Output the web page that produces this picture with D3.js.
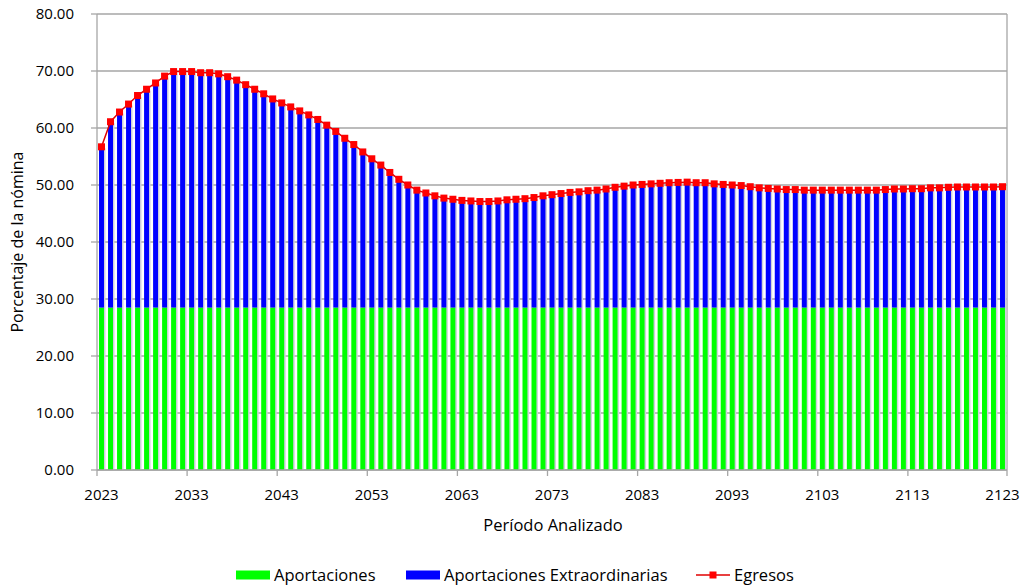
<!DOCTYPE html>
<html>
<head>
<meta charset="utf-8">
<script src="https://cdn.jsdelivr.net/npm/d3@7"></script>
<style>
  body { margin:0; background:#fff; }
  text { font-family: "Open Sans", "Noto Sans", sans-serif; fill:#000; }
</style>
</head>
<body>
<div id="chart"></div>
<script>
// data
var years = d3.range(2023, 2124);
var aportaciones = years.map(function(){ return 28.5; });
var egresos = [
  56.7, 61.1, 62.8, 64.2, 65.7, 66.8, 67.9, 69.1, 69.9, 69.9,
  69.9, 69.7, 69.7, 69.5, 69.0, 68.4, 67.6, 66.8, 66.0, 65.1,
  64.4, 63.7, 63.0, 62.3, 61.5, 60.5, 59.4, 58.2, 57.1, 55.8,
  54.6, 53.5, 52.2, 51.0, 50.0, 49.1, 48.6, 48.1, 47.7, 47.5,
  47.3, 47.2, 47.1, 47.1, 47.2, 47.4, 47.5, 47.6, 47.8, 48.1,
  48.3, 48.5, 48.7, 48.8, 49.0, 49.1, 49.3, 49.6, 49.8, 50.0,
  50.1, 50.2, 50.3, 50.4, 50.45, 50.5, 50.4, 50.4, 50.2, 50.1,
  50.0, 49.9, 49.7, 49.5, 49.4, 49.3, 49.2, 49.2, 49.1, 49.1,
  49.1, 49.1, 49.1, 49.1, 49.1, 49.1, 49.1, 49.2, 49.3, 49.3,
  49.35, 49.35, 49.5, 49.5, 49.6, 49.65, 49.65, 49.65, 49.65, 49.65,
  49.7
];
var extraordinarias = egresos.map(function(d, i){ return d - aportaciones[i]; });
var yTicks = [0, 10, 20, 30, 40, 50, 60, 70, 80];
var xLabelYears = d3.range(2023, 2124, 10);

var W = 1025, H = 586;
var margin = {top:14, right:18, bottom:116, left:97};
var width = W - margin.left - margin.right,
    height = H - margin.top - margin.bottom;

var svg = d3.select("#chart").append("svg")
    .attr("width", W).attr("height", H);
var g = svg.append("g")
    .attr("transform", "translate(" + margin.left + "," + margin.top + ")");

var x = d3.scaleBand().domain(years).range([0, width]).paddingInner(0.45).paddingOuter(0.225);
var xb = d3.scaleBand().domain(years).range([0, width]); // for tick boundaries
var y = d3.scaleLinear().domain([0, 80]).range([height, 0]);

// gridlines
g.selectAll(".grid").data(yTicks).enter().append("line")
  .attr("x1", 0).attr("x2", width)
  .attr("y1", function(d){ return y(d); }).attr("y2", function(d){ return y(d); })
  .attr("stroke", "#a6a6a6").attr("stroke-width", 1.3);

// right border
g.append("line").attr("x1", width).attr("x2", width).attr("y1", 0).attr("y2", height)
  .attr("stroke", "#a6a6a6").attr("stroke-width", 1.3);

// bar shadows
g.selectAll(".shadow").data(years).enter().append("rect")
  .attr("x", function(d){ return x(d) + 1.5; })
  .attr("y", function(d, i){ return y(egresos[i]) + 1.5; })
  .attr("width", x.bandwidth())
  .attr("height", function(d, i){ return height - y(egresos[i]) - 1.5; })
  .attr("fill", "#d0d0dc");

// stacked bars
g.selectAll(".bar-green").data(years).enter().append("rect")
  .attr("x", function(d){ return x(d); })
  .attr("y", function(d, i){ return y(aportaciones[i]); })
  .attr("width", x.bandwidth())
  .attr("height", function(d, i){ return height - y(aportaciones[i]); })
  .attr("fill", "#00ff00");

g.selectAll(".bar-blue").data(years).enter().append("rect")
  .attr("x", function(d){ return x(d); })
  .attr("y", function(d, i){ return y(aportaciones[i] + extraordinarias[i]); })
  .attr("width", x.bandwidth())
  .attr("height", function(d, i){ return y(aportaciones[i]) - y(aportaciones[i] + extraordinarias[i]); })
  .attr("fill", "#0000ff");

// y axis
g.append("line").attr("x1", 0).attr("x2", 0).attr("y1", 0).attr("y2", height)
  .attr("stroke", "#a6a6a6").attr("stroke-width", 1.3);
g.selectAll(".ytick").data(yTicks).enter().append("line")
  .attr("x1", -6).attr("x2", 0)
  .attr("y1", function(d){ return y(d); }).attr("y2", function(d){ return y(d); })
  .attr("stroke", "#a6a6a6").attr("stroke-width", 1.3);
g.selectAll(".ylab").data(yTicks).enter().append("text")
  .attr("x", -23).attr("y", function(d){ return y(d); })
  .attr("dy", "0.35em").attr("text-anchor", "end")
  .style("font-size", "15px")
  .text(function(d){ return d3.format(".2f")(d); });

// x axis
g.append("line").attr("x1", 0).attr("x2", width).attr("y1", height).attr("y2", height)
  .attr("stroke", "#a6a6a6").attr("stroke-width", 1.3);
g.selectAll(".xtick").data(xLabelYears.slice(0, -1).concat([2124])).enter().append("line")
  .attr("x1", function(d){ return d === 2124 ? width : xb(d); })
  .attr("x2", function(d){ return d === 2124 ? width : xb(d); })
  .attr("y1", height).attr("y2", height + 6)
  .attr("stroke", "#a6a6a6").attr("stroke-width", 1.3);
g.selectAll(".xlab").data(xLabelYears).enter().append("text")
  .attr("x", function(d){ return x(d) + x.bandwidth() / 2; })
  .attr("y", height + 30)
  .attr("text-anchor", "middle")
  .style("font-size", "15px")
  .text(function(d){ return d; });

// egresos line
var line = d3.line()
  .x(function(d, i){ return x(years[i]) + x.bandwidth() / 2; })
  .y(function(d){ return y(d); });
g.append("path").datum(egresos)
  .attr("d", line).attr("fill", "none")
  .attr("stroke", "#e00000").attr("stroke-width", 1.5);
g.selectAll(".marker").data(egresos).enter().append("rect")
  .attr("x", function(d, i){ return x(years[i]) + x.bandwidth() / 2 - 3.5; })
  .attr("y", function(d){ return y(d) - 3.5; })
  .attr("width", 7).attr("height", 7)
  .attr("fill", "#ff0000");

// titles
svg.append("text")
  .attr("transform", "translate(23," + (margin.top + height / 2) + ") rotate(-90)")
  .attr("text-anchor", "middle")
  .style("font-size", "16px")
  .text("Porcentaje de la nómina");
svg.append("text")
  .attr("x", margin.left + width / 2 + 1).attr("y", 531)
  .attr("text-anchor", "middle")
  .style("font-size", "16.5px")
  .text("Período Analizado");

// legend
var legend = svg.append("g").attr("transform", "translate(0,575)");
legend.append("rect").attr("x", 236).attr("y", -4.5).attr("width", 34).attr("height", 9).attr("fill", "#00ff00");
legend.append("text").attr("x", 274).attr("dy", "0.35em").style("font-size", "16.5px").text("Aportaciones");
legend.append("rect").attr("x", 406).attr("y", -4.5).attr("width", 34).attr("height", 9).attr("fill", "#0000ff");
legend.append("text").attr("x", 444).attr("dy", "0.35em").style("font-size", "16.5px").text("Aportaciones Extraordinarias");
legend.append("line").attr("x1", 696).attr("x2", 730).attr("y1", 0).attr("y2", 0)
  .attr("stroke", "#e00000").attr("stroke-width", 1.5);
legend.append("rect").attr("x", 709.5).attr("y", -3.5).attr("width", 7).attr("height", 7).attr("fill", "#ff0000");
legend.append("text").attr("x", 734).attr("dy", "0.35em").style("font-size", "16.5px").text("Egresos");
</script>
</body>
</html>
